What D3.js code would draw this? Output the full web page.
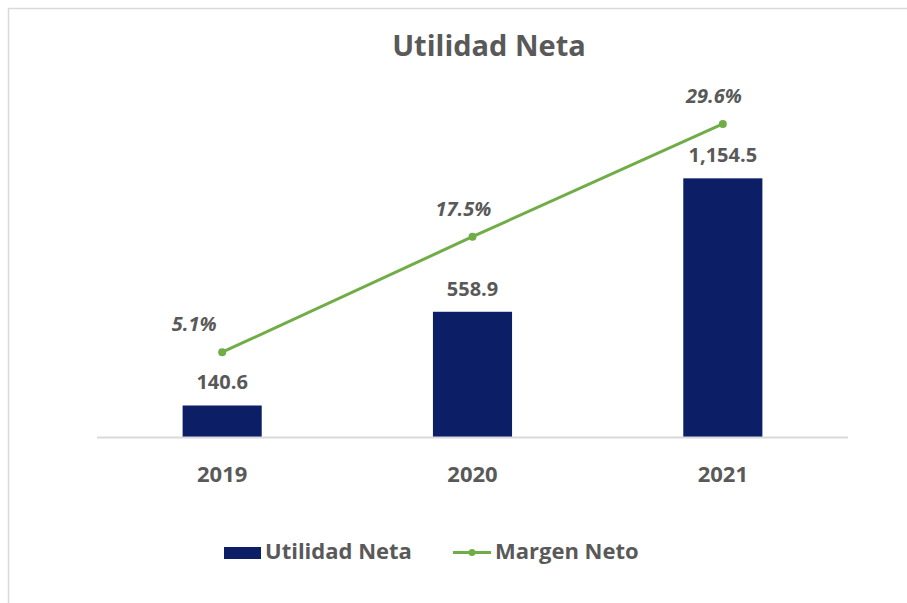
<!DOCTYPE html>
<html>
<head>
<meta charset="utf-8">
<script src="https://cdn.jsdelivr.net/npm/d3@7"></script>
<style>
  body { margin: 0; background: #fff; }
  svg { display: block; font-family: "Open Sans", sans-serif; }
</style>
</head>
<body>
<svg id="chart"></svg>
<script>
// data
const years = ["2019", "2020", "2021"];
const utilidadNeta = [140.6, 558.9, 1154.5];
const margenNeto = [5.1, 17.5, 29.6];
const barLabels = ["140.6", "558.9", "1,154.5"];
const pctLabels = ["5.1%", "17.5%", "29.6%"];

// small nudges for the % labels (layout only)
const pctNudge = [-28, -9, -9];

const width = 907, height = 603;
const margin = { top: 83, left: 97, right: 59, bottom: 166 };

const svg = d3.select("#chart").attr("width", width).attr("height", height);

// outer chart border
svg.append("rect")
  .attr("x", 8.5).attr("y", 8.5)
  .attr("width", width + 10).attr("height", height + 10)
  .attr("fill", "none").attr("stroke", "#d9d9d9").attr("stroke-width", 1.5);

const x = d3.scaleBand()
  .domain(years)
  .range([margin.left, width - margin.right])
  .paddingInner(0.684)
  .paddingOuter(0.342);

const yBar = d3.scaleLinear().domain([0, 1580]).range([height - margin.bottom, margin.top]);
const yPct = d3.scaleLinear().domain([-4, 34]).range([height - margin.bottom, margin.top]);

const grey = "#595959";
const navy = "#0c1f66";
const green = "#70ad47";

// title
svg.append("text")
  .attr("x", 489).attr("y", 56)
  .attr("text-anchor", "middle")
  .attr("font-size", 29).attr("font-weight", "bold")
  .attr("fill", grey)
  .text("Utilidad Neta");

// bars
svg.selectAll(".bar")
  .data(utilidadNeta)
  .join("rect")
  .attr("class", "bar")
  .attr("x", (d, i) => x(years[i]))
  .attr("y", d => yBar(d))
  .attr("width", x.bandwidth())
  .attr("height", d => yBar(0) - yBar(d))
  .attr("fill", navy);

// baseline
svg.append("line")
  .attr("x1", margin.left).attr("x2", width - margin.right)
  .attr("y1", yBar(0) + 0.5).attr("y2", yBar(0) + 0.5)
  .attr("stroke", "#d9d9d9").attr("stroke-width", 2);

// x axis labels
const xAxis = svg.append("g")
  .attr("transform", `translate(0,${yBar(0)})`)
  .call(d3.axisBottom(x).tickSize(0).tickPadding(29));
xAxis.select(".domain").remove();
xAxis.selectAll("text")
  .attr("font-family", "'Open Sans', sans-serif")
  .attr("font-size", 22).attr("font-weight", "bold")
  .attr("fill", grey);

// bar value labels
svg.selectAll(".bar-label")
  .data(utilidadNeta)
  .join("text")
  .attr("class", "bar-label")
  .attr("x", (d, i) => x(years[i]) + x.bandwidth() / 2)
  .attr("y", d => yBar(d) - 16)
  .attr("text-anchor", "middle")
  .attr("font-size", 20).attr("font-weight", "bold")
  .attr("fill", grey)
  .text((d, i) => barLabels[i]);

// margin line
const cx = i => x(years[i]) + x.bandwidth() / 2;
const line = d3.line()
  .x((d, i) => cx(i))
  .y(d => yPct(d));

svg.append("path")
  .datum(margenNeto)
  .attr("d", line)
  .attr("fill", "none")
  .attr("stroke", green)
  .attr("stroke-width", 3);

svg.selectAll(".pt")
  .data(margenNeto)
  .join("circle")
  .attr("class", "pt")
  .attr("cx", (d, i) => cx(i))
  .attr("cy", d => yPct(d))
  .attr("r", 4)
  .attr("fill", green);

svg.selectAll(".pct-label")
  .data(margenNeto)
  .join("text")
  .attr("class", "pct-label")
  .attr("x", (d, i) => cx(i) + pctNudge[i])
  .attr("y", d => yPct(d) - 21)
  .attr("text-anchor", "middle")
  .attr("font-size", 20).attr("font-weight", "bold").attr("font-style", "italic")
  .attr("fill", grey)
  .text((d, i) => pctLabels[i]);

// legend
const legend = svg.append("g").attr("transform", "translate(0,553)");
legend.append("rect")
  .attr("x", 224).attr("y", -6).attr("width", 37).attr("height", 12)
  .attr("fill", navy);
legend.append("text")
  .attr("x", 265).attr("y", 5.5)
  .attr("font-size", 22).attr("font-weight", "bold").attr("fill", grey)
  .text("Utilidad Neta");
legend.append("line")
  .attr("x1", 453).attr("x2", 491).attr("y1", -0.5).attr("y2", -0.5)
  .attr("stroke", green).attr("stroke-width", 3);
legend.append("circle")
  .attr("cx", 472).attr("cy", -0.5).attr("r", 3.5).attr("fill", green);
legend.append("text")
  .attr("x", 495).attr("y", 5.5)
  .attr("font-size", 22).attr("font-weight", "bold").attr("fill", grey)
  .text("Margen Neto");
</script>
</body>
</html>
